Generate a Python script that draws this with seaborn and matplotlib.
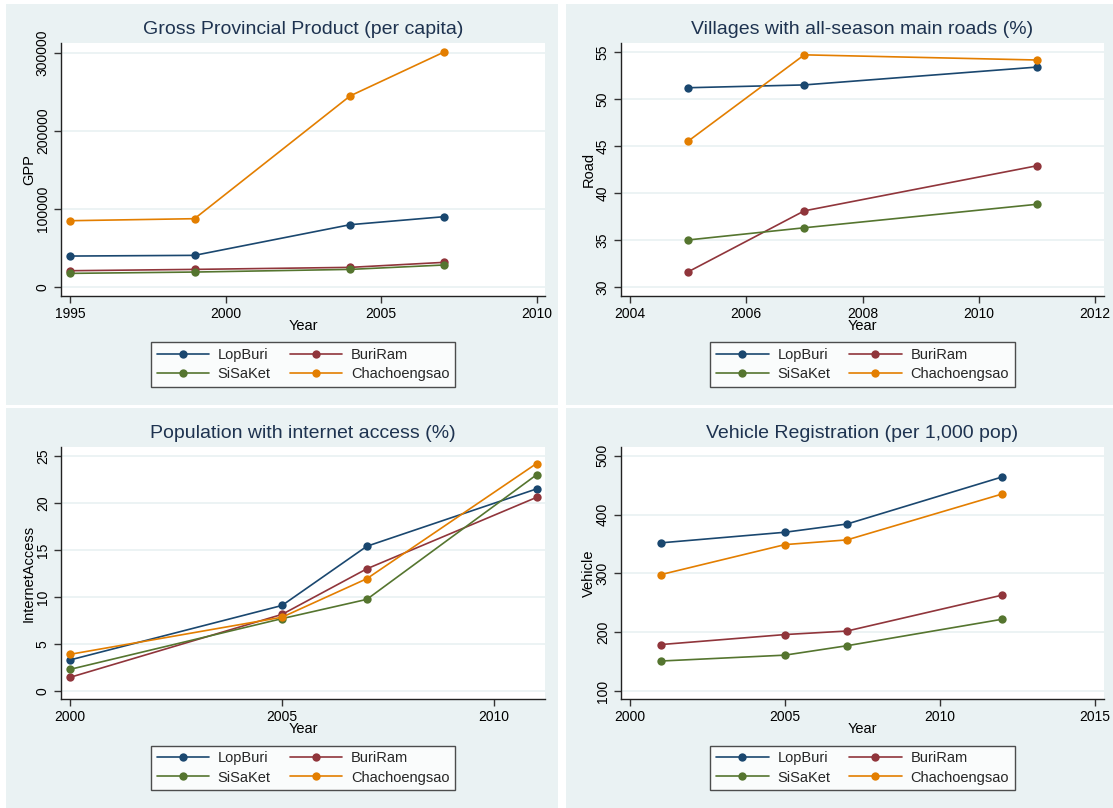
import numpy as np
import pandas as pd
import matplotlib
matplotlib.use("Agg")
import matplotlib.pyplot as plt
from matplotlib.patches import Rectangle
from matplotlib.lines import Line2D
import seaborn as sns

# ---------------- data ----------------
provinces = ["LopBuri", "BuriRam", "SiSaKet", "Chachoengsao"]

gpp_years = [1995, 1999, 2004, 2007]
gpp_lopburi = [39700, 40600, 79900, 90100]
gpp_buriram = [20900, 22600, 25200, 31600]
gpp_sisaket = [17500, 19200, 22600, 28200]
gpp_chach = [85000, 87600, 245000, 300900]

road_years = [2005, 2007, 2011]
road_lopburi = [51.2, 51.5, 53.4]
road_buriram = [31.6, 38.1, 42.9]
road_sisaket = [35.0, 36.3, 38.8]
road_chach = [45.5, 54.7, 54.15]

net_years = [2000, 2005, 2007, 2011]
net_lopburi = [3.3, 9.1, 15.4, 21.5]
net_buriram = [1.45, 8.15, 13.0, 20.6]
net_sisaket = [2.3, 7.7, 9.75, 23.0]
net_chach = [3.9, 7.85, 11.95, 24.2]

veh_years = [2001, 2005, 2007, 2012]
veh_lopburi = [352, 370, 384, 464]
veh_buriram = [179, 196, 202, 263]
veh_sisaket = [151, 161, 177, 222]
veh_chach = [298, 349, 357, 435]

titles = ["Gross Provincial Product (per capita)",
          "Villages with all-season main roads (%)",
          "Population with internet access (%)",
          "Vehicle Registration (per 1,000 pop)"]
ylabels = ["GPP", "Road", "InternetAccess", "Vehicle"]
xticks_list = [[1995, 2000, 2005, 2010], [2004, 2006, 2008, 2010, 2012],
               [2000, 2005, 2010], [2000, 2005, 2010, 2015]]
yticks_list = [[0, 100000, 200000, 300000], [30, 35, 40, 45, 50, 55],
               [0, 5, 10, 15, 20, 25], [100, 200, 300, 400, 500]]

# ---------------- style ----------------
colors = {"LopBuri": "#1a476f", "BuriRam": "#90353b",
          "SiSaKet": "#55752f", "Chachoengsao": "#e37e00"}
panel_bg = "#eaf2f3"
title_col = "#1e3350"

sns.set_theme(style="white")
plt.rcParams["font.family"] = ["Liberation Sans", "DejaVu Sans"]

W, H = 1113, 808
fig = plt.figure(figsize=(W / 100, H / 100), dpi=100)
fig.patch.set_facecolor("white")


def fx(px):
    return px / W


def fy(py):
    return 1 - py / H


# panel backgrounds (pixel boxes)
panels = [(6, 4, 558, 405), (566, 4, 1113, 405), (6, 408, 558, 808), (566, 408, 1113, 808)]
for (x0, y0, x1, y1) in panels:
    fig.patches.append(Rectangle((fx(x0), fy(y1)), fx(x1) - fx(x0), (y1 - y0) / H,
                                 transform=fig.transFigure, facecolor=panel_bg,
                                 edgecolor="none", zorder=-5))

# axes plot regions (left, top, right, bottom) in pixels
regions = [(61, 43, 545, 296), (621, 43, 1104, 296), (61, 447, 545, 699), (621, 447, 1104, 699)]
xlims = [(1994.71, 2010.26), (2003.85, 2012.15), (1999.79, 2011.2), (1999.71, 2015.29)]
ylims = [(-11500, 312800), (29.04, 55.96), (-0.85, 25.96), (86.4, 515)]

datasets = [
    (gpp_years, [gpp_lopburi, gpp_buriram, gpp_sisaket, gpp_chach]),
    (road_years, [road_lopburi, road_buriram, road_sisaket, road_chach]),
    (net_years, [net_lopburi, net_buriram, net_sisaket, net_chach]),
    (veh_years, [veh_lopburi, veh_buriram, veh_sisaket, veh_chach]),
]

for i, ((l, t, r, b), (years, series)) in enumerate(zip(regions, datasets)):
    ax = fig.add_axes([fx(l), fy(b), (r - l) / W, (b - t) / H])
    ax.set_zorder(2)
    ax.set_facecolor("white")
    rows = []
    for p, vals in zip(provinces, series):
        for yr, v in zip(years, vals):
            rows.append({"Year": yr, "Value": v, "Province": p})
    df = pd.DataFrame(rows)
    sns.lineplot(data=df, x="Year", y="Value", hue="Province", hue_order=provinces,
                 palette=colors, marker="o", markersize=6, markeredgewidth=0,
                 linewidth=1.2, legend=False, ax=ax, zorder=3)
    ax.set_xlim(*xlims[i])
    ax.set_ylim(*ylims[i])
    ax.set_xticks(xticks_list[i])
    ax.set_yticks(yticks_list[i])
    ax.set_yticklabels([str(v) for v in yticks_list[i]], rotation=90, va="center")
    ax.tick_params(axis="both", which="major", length=5, width=1, color="#333333",
                   labelsize=10, pad=3, labelcolor="black")
    ax.tick_params(axis="x", bottom=True)
    ax.tick_params(axis="y", left=True)
    ax.grid(axis="y", color=panel_bg, linewidth=1.3, zorder=0)
    ax.grid(axis="x", visible=False)
    for s in ["top", "right"]:
        ax.spines[s].set_visible(False)
    for s in ["left", "bottom"]:
        ax.spines[s].set_color("#222222")
        ax.spines[s].set_linewidth(1.0)
    hpx = b - t
    wpx = r - l
    ax.set_xlabel("Year", fontsize=10.5, color="black")
    ax.xaxis.set_label_coords(0.5, -30 / hpx)
    ax.xaxis.label.set_va("center")
    ax.set_ylabel(ylabels[i], fontsize=10.5, color="black")
    ax.yaxis.set_label_coords(-32 / wpx, 0.5)
    ax.yaxis.label.set_va("center")
    ax.text(0.5, 1 + 13 / hpx, titles[i], transform=ax.transAxes, ha="center",
            va="center", fontsize=14, color=title_col)

    # legend
    handles = {p: Line2D([], [], color=colors[p], marker="o", markersize=6,
                         markeredgewidth=0, linewidth=1.2) for p in provinces}
    order = ["LopBuri", "SiSaKet", "BuriRam", "Chachoengsao"]
    cx = (l + r) / 2
    cy = 364.5 if i < 2 else 768
    leg = ax.legend([handles[p] for p in order], order, ncol=2,
                    loc="center", bbox_to_anchor=(fx(cx), fy(cy)),
                    bbox_transform=fig.transFigure, frameon=True, fancybox=False,
                    fontsize=10.5, handlelength=3.6, handletextpad=0.6,
                    columnspacing=1.3, borderpad=0.4, labelspacing=0.35)
    leg.get_frame().set_edgecolor("#222222")
    leg.get_frame().set_linewidth(1.0)
    leg.get_frame().set_facecolor("white")

fig.savefig("out.png", dpi=100, facecolor="white")
